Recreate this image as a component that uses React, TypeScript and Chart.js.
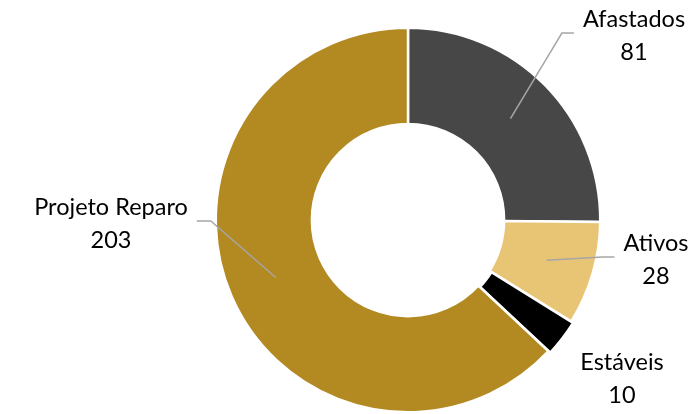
import React, { useEffect, useRef } from "react";
import { Chart, registerables } from "chart.js";

Chart.register(...registerables);

const categories = ["Afastados", "Ativos", "Estáveis", "Projeto Reparo"];
const values = [81, 28, 10, 203];
const colors = ["#474747", "#E8C574", "#000000", "#B38922"];

// label block centres (px in canvas) and side of leader line
const labelLayout = [
  { x: 634, y: 36, side: "left", line: true },
  { x: 656, y: 260, side: "left", line: true },
  { x: 622, y: 379, side: "left", line: false },
  { x: 111, y: 224, side: "right", line: true },
];

const labelPlugin = {
  id: "extLabels",
  afterDatasetsDraw(chart: any) {
    const ctx = chart.ctx;
    const meta = chart.getDatasetMeta(0);
    ctx.save();
    ctx.font = "23.5px Lato";
    const lh = 33;
    meta.data.forEach((arc: any, i: number) => {
      const L = labelLayout[i];
      const p = arc.getProps(["x", "y", "startAngle", "endAngle", "innerRadius", "outerRadius"], true);
      const mid = (p.startAngle + p.endAngle) / 2;
      const r = (p.innerRadius + p.outerRadius) / 2;
      const sx = p.x + Math.cos(mid) * r;
      const sy = p.y + Math.sin(mid) * r;
      const name = categories[i];
      const val = String(values[i]);
      if (L.line) {
        const nameW = ctx.measureText(name).width;
        const edge = L.side === "left" ? L.x - nameW / 2 - 9 : L.x + nameW / 2 + 9;
        const elbow = L.side === "left" ? edge - 12 : edge + 14;
        const ey = L.y - 3;
        ctx.strokeStyle = "#A6A6A6";
        ctx.lineWidth = 1.5;
        ctx.beginPath();
        ctx.moveTo(sx, sy);
        ctx.lineTo(elbow, ey);
        ctx.lineTo(edge, ey);
        ctx.stroke();
      }
      ctx.fillStyle = "#000000";
      ctx.textAlign = "center";
      ctx.textBaseline = "middle";
      ctx.fillText(name, L.x, L.y - lh / 2);
      ctx.fillText(val, L.x, L.y + lh / 2);
    });
    ctx.restore();
  },
};

export default function App() {
  const ref = useRef<HTMLCanvasElement>(null);
  useEffect(() => {
    document.body.style.margin = "0";
    const chart = new Chart(ref.current!, {
      type: "doughnut",
      data: {
        labels: categories,
        datasets: [
          {
            data: values,
            backgroundColor: colors,
            borderColor: "#FFFFFF",
            borderWidth: 2.5,
            offset: [0, 0, 5, 0],
          },
        ],
      },
      options: {
        animation: false,
        responsive: false,
        cutout: "50%",
        layout: { padding: { left: 212, right: 96, top: 24, bottom: 4 } },
        plugins: { legend: { display: false }, tooltip: { enabled: false } },
      },
      plugins: [labelPlugin],
    });
    return () => chart.destroy();
  }, []);
  return (
    <div style={{ position: "absolute", left: 0, top: 0, width: 700, height: 414, overflow: "hidden" }}>
      <canvas ref={ref} width={700} height={420} style={{ width: 700, height: 420, display: "block" }} />
    </div>
  );
}
